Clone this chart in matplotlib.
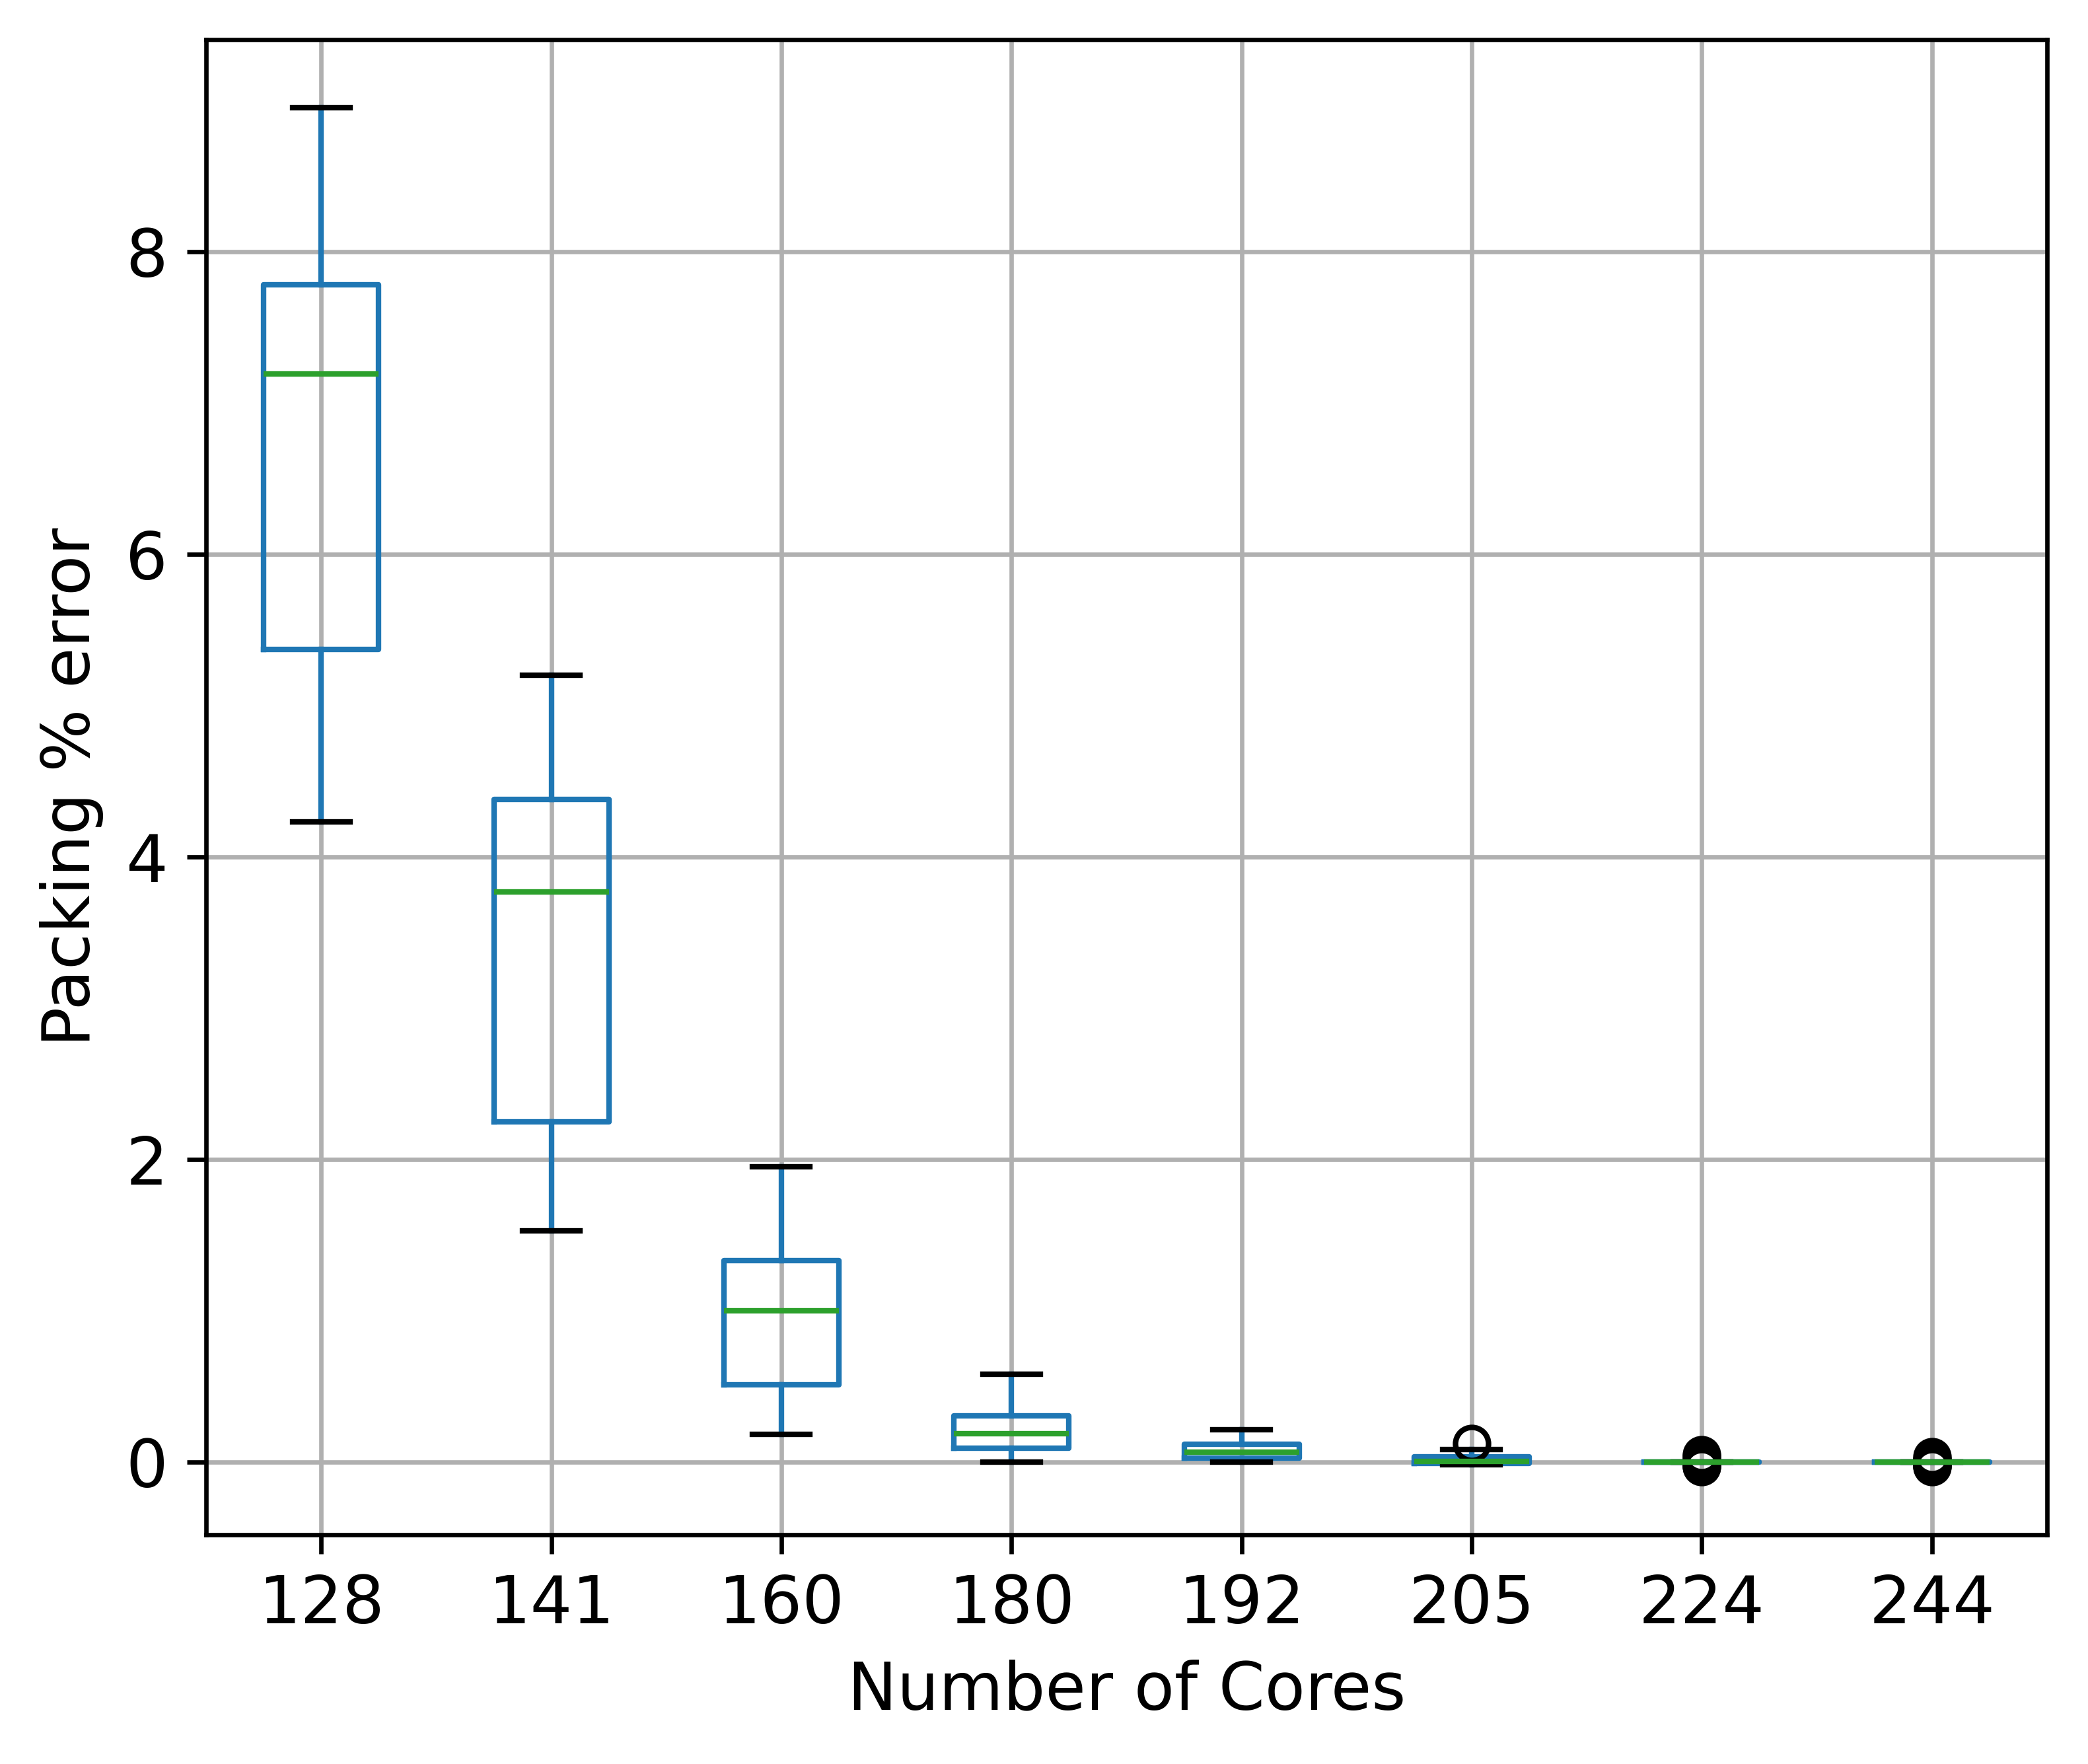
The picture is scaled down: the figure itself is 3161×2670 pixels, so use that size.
"""Box plot of packing % error against number of cores."""
import matplotlib
matplotlib.use("Agg")
import matplotlib.pyplot as plt

CORES = ["128", "141", "160", "180", "192", "205", "224", "244"]
MEDIANS = [7.19, 3.77, 1.00, 0.188, 0.066, 0.005, 0.0, 0.0]
Q1 = [5.37, 2.25, 0.51, 0.092, 0.027, -0.01, 0.0, 0.0]
Q3 = [7.78, 4.38, 1.33, 0.306, 0.118, 0.035, 0.0, 0.0]
WHISKER_LOW = [4.23, 1.53, 0.185, 0.0, 0.0, -0.015, 0.0, 0.0]
WHISKER_HIGH = [8.95, 5.20, 1.95, 0.58, 0.214, 0.085, 0.0, 0.0]
FLIERS = [[], [], [], [], [], [0.125],
          [0.05, 0.035, 0.015, -0.015, -0.025, -0.03],
          [0.035, 0.02, 0.01, -0.015, -0.025, -0.03]]


def _main() -> None:
    plt.rcParams["font.size"] = 12
    fig, ax = plt.subplots(figsize=(5.27, 4.45))
    plt.subplots_adjust(left=0.0987, right=0.980, top=0.9775, bottom=0.130)

    stats = []
    for i, label in enumerate(CORES):
        stats.append({
            "label": label,
            "med": MEDIANS[i],
            "q1": Q1[i],
            "q3": Q3[i],
            "whislo": WHISKER_LOW[i],
            "whishi": WHISKER_HIGH[i],
            "fliers": FLIERS[i],
        })

    ax.bxp(stats,
           boxprops={"color": "C0"},
           whiskerprops={"color": "C0"},
           capprops={"color": "k"},
           medianprops={"color": "C2"},
           flierprops={"marker": "o", "markeredgecolor": "k",
                       "markerfacecolor": "none"})
    ax.grid(True)
    ax.set_axisbelow(True)
    ax.set_xlabel("Number of Cores")
    ax.set_ylabel("Packing % error")
    fig.savefig("out.png", dpi=600, facecolor="w")


if __name__ == "__main__":
    _main()
